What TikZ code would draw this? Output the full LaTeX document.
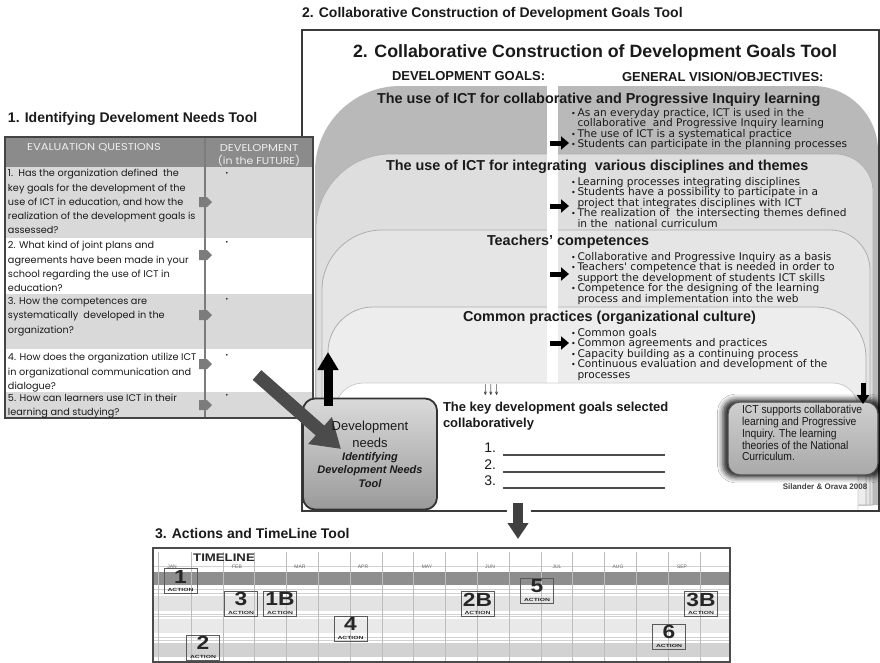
\documentclass[tikz,border=0pt]{standalone}
\usepackage{fontspec}
\setmainfont{Liberation Sans}
\newfontfamily\bulfont{DejaVu Sans}
\newfontfamily\geofont{Poppins}
\newfontfamily\narrowfont{Liberation Sans}[FakeStretch=0.9]
\usetikzlibrary{arrows.meta,shadows.blur}
\definecolor{bandA}{HTML}{B9B9B9}
\definecolor{bandB}{HTML}{DEDEDE}
\definecolor{bandC}{HTML}{E5E5E5}
\definecolor{bandD}{HTML}{EDEDED}
\definecolor{bandline}{HTML}{AEAEAE}
\definecolor{framec}{HTML}{3A3A3A}
\definecolor{txt}{HTML}{1A1A1A}
\definecolor{hdrc}{HTML}{8B8B8B}
\definecolor{hdrtxt}{HTML}{EEEEEE}
\definecolor{rowc}{HTML}{D9D9D9}
\definecolor{tabline}{HTML}{444444}
\definecolor{divc}{HTML}{7C7C7C}
\definecolor{arrowc}{HTML}{4B4B4B}
\definecolor{devtop}{HTML}{DADADA}
\definecolor{devbot}{HTML}{9A9A9A}
\definecolor{icttop}{HTML}{CFCFCF}
\definecolor{ictbot}{HTML}{A9A9A9}
\definecolor{gridc}{HTML}{BDBDBD}
\definecolor{tlbar}{HTML}{8E8E8E}
\definecolor{tlA}{HTML}{E3E3E3}
\definecolor{tlB}{HTML}{E9E9E9}
\definecolor{tlC}{HTML}{D2D2D2}
\definecolor{actline}{HTML}{5A5A5A}
\newcommand\bi{\makebox[6.5pt][l]{\fontsize{8}{8}\selectfont •}}
\newcommand\bc{\hspace*{6.5pt}}
\newcommand\qmark[1]{\fill[divc] (199,{#1-5}) -- (207,{#1-5}) -- (212,#1) -- (207,{#1+5}) -- (199,{#1+5}) -- cycle;}
\newcommand\actionbox[3]{%
  \node[actbox] (#1) at (#2) {};
  \node[actnum, anchor=north] (#1n) at ([yshift=-1.5pt]#1.north) {\scalebox{1.2}[1]{#3}};
  \node[actlbl, anchor=south] (#1l) at ([yshift=1.5pt]#1.south) {\scalebox{1.5}[1]{ACTION}};}
\tikzset{
  heading/.style={font=\fontsize{14}{16}\selectfont\bfseries, text=txt, anchor=west},
  bandtitle/.style={font=\fontsize{14.4}{16}\selectfont\bfseries, text=txt, anchor=west},
  colhead/.style={font=\fontsize{13}{15}\selectfont\bfseries, text=txt, anchor=west},
  bullets/.style={font=\bulfont\fontsize{10.6}{10.6}\selectfont, text=txt, align=left, anchor=north west},
  qtext/.style={font=\geofont\fontsize{9.7}{14.2}\selectfont, text=txt, align=left, anchor=north west},
  hdrtext/.style={font=\geofont\fontsize{10}{11}\selectfont, text=hdrtxt},
  rarrow/.style={line width=5pt, black, -{Triangle[length=8pt,width=13pt]}},
  actbox/.style={draw=actline, line width=1pt, minimum width=33pt, minimum height=25pt},
  actnum/.style={font=\fontsize{19}{19}\selectfont\bfseries, text=black!85},
  actlbl/.style={font=\fontsize{4.5}{5}\selectfont\bfseries, text=black!85},
  month/.style={font=\fontsize{5}{6}\selectfont, text=black!60},
  blank/.style={draw=black!70, line width=1.1pt},
}
\begin{document}
\begin{tikzpicture}[x=1pt,y=-1pt, every node/.style={inner sep=0pt, outer sep=0pt}]
\useasboundingbox (0,0) rectangle (880,662);
\fill[white] (0,0) rectangle (880,662);

% ---------------- headings
\node[heading] (h2) at (302,14) {2. Collaborative Construction of Development Goals Tool};
\node[heading] (h1) at (8,119) {1. Identifying Develoment Needs Tool};
\node[heading] (h3) at (155,533) {3. Actions and TimeLine Tool};

% ---------------- tool 2 bands
\begin{scope}
\clip (302,30) rectangle (879,511);
\fill[bandA] (315,505) -- (315,171) .. controls (315,124.25) and (353.25,86) .. (400,86) -- (813,86) .. controls (848.75,86) and (878,115.25) .. (878,151) -- (878,505) -- cycle;
\fill[bandB, draw=bandline, line width=0.6pt] (316,505) -- (316,229) .. controls (316,187.75) and (349.75,154) .. (391,154) -- (835,154) .. controls (855.9,154) and (873,171.1) .. (873,192) -- (873,505) -- cycle;
\fill[bandC, draw=bandline, line width=0.8pt] (322,505) -- (322,290) .. controls (322,257) and (349,230) .. (382,230) -- (830,230) .. controls (852,230) and (870,248) .. (870,270) -- (870,505) -- cycle;
\fill[bandD, draw=bandline, line width=0.8pt] (328,505) -- (328,352) .. controls (328,327.25) and (348.25,307) .. (373,307) -- (816,307) .. controls (843.5,307) and (866,329.5) .. (866,357) -- (866,505) -- cycle;
\fill[white] (547,86) rectangle (558,383);
\fill[white, draw=black!20, line width=0.8pt] (335,515) -- (335,411) .. controls (335,395.6) and (347.6,383) .. (363,383) -- (833,383) .. controls (846.75,383) and (858,394.25) .. (858,408) -- (858,515) -- cycle;
\end{scope}
\draw[framec, line width=1.8pt] (302,30) rectangle (879,511);

\node[anchor=west, font=\fontsize{17.8}{20}\selectfont\bfseries, text=txt] (t2) at (353,53) {2. Collaborative Construction of Development Goals Tool};
\node[colhead] (cg) at (392,76) {DEVELOPMENT GOALS:};
\node[colhead] (cv) at (622,77) {GENERAL VISION/OBJECTIVES:};

\node[bandtitle] (bt1) at (377,100) {The use of ICT for collaborative and Progressive Inquiry learning};
\node[bandtitle] (bt2) at (386,167) {The use of ICT for integrating\ \ various disciplines and themes};
\node[bandtitle] (bt3) at (487,242) {Teachers' competences};
\node[bandtitle] (bt4) at (463,318) {Common practices (organizational culture)};

\node[bullets] (bl1) at (571,108) {\bi As an everyday practice, ICT is used in the\\
\bc collaborative\ \ and Progressive Inquiry learning\\
\bi The use of ICT is a systematical practice\\
\bi Students can participate in the planning processes};
\node[bullets] (bl2) at (571,177) {\bi Learning processes integrating disciplines\\
\bi Students have a possibility to participate in a\\
\bc project that integrates disciplines with ICT\\
\bi The realization of\ \ the intersecting themes defined\\
\bc in the\ \ national curriculum};
\node[bullets] (bl3) at (571,252) {\bi Collaborative and Progressive Inquiry as a basis\\
\bi Teachers' competence that is needed in order to\\
\bc support the development of students ICT skills\\
\bi Competence for the designing of the learning\\
\bc process and implementation into the web};
\node[bullets] (bl4) at (571,328) {\bi Common goals\\
\bi Common agreements and practices\\
\bi Capacity building as a continuing process\\
\bi Continuous evaluation and development of the\\
\bc processes};

\foreach \yy [count=\i] in {143,206,274,343} {
  \coordinate (ra\i s) at (550,\yy);
  \coordinate (ra\i e) at (569,\yy);
  \draw[rarrow] (ra\i s) -- (ra\i e);
}

% key goals area
\node[font=\bulfont\fontsize{15}{15}\selectfont, text=black!80] (arrs) at (491,390.5) {\scalebox{0.45}[1]{↓↓↓}};
\node[anchor=west, font=\fontsize{13}{15}\selectfont\bfseries, text=txt] (key1) at (443,408.5) {The key development goals selected};
\node[anchor=west, font=\fontsize{13}{15}\selectfont\bfseries, text=txt] (key2) at (443,424) {collaboratively};
\foreach \yy/\ly [count=\i] in {448/455,465/472,481/488} {
  \node[anchor=east, font=\fontsize{14}{16}\selectfont, text=txt] (num\i) at (496,\yy) {\i.};
  \coordinate (bl\i a) at (503,\ly);
  \coordinate (bl\i b) at (665,\ly);
  \draw[blank] (bl\i a) -- (bl\i b);
}
\node[font=\fontsize{8}{9}\selectfont\bfseries, text=black!75] (cite) at (825,487) {Silander \& Orava 2008};

% ---------------- table (tool 1)
\fill[hdrc] (5,137) rectangle (313,167);
\fill[rowc] (5,167) rectangle (313,237);
\fill[white] (5,237) rectangle (313,294);
\fill[rowc] (5,294) rectangle (313,348);
\fill[white] (5,348) rectangle (313,392);
\fill[rowc] (5,392) rectangle (313,418);
\draw[white!85!black, line width=0.6pt] (5,237) -- (313,237) (5,294) -- (313,294) (5,348) -- (313,348) (5,392) -- (313,392);
\draw[divc, line width=1.5pt] (205,137) -- (205,418);
\draw[tabline, line width=1.6pt] (5,137) rectangle (313,418);

\node[hdrtext] (hq) at (94,148) {\scalebox{1.15}[1]{EVALUATION QUESTIONS}};
\node[hdrtext] (hd1) at (259,148) {\scalebox{1.15}[1]{DEVELOPMENT}};
\node[hdrtext] (hd2) at (259,161) {\scalebox{1.1}[1]{(in the FUTURE)}};

\node[qtext] (q1) at (8,169.5) {1.\ \ Has the organization defined\ \ the\\key goals for the development of the\\use of ICT in education, and how the\\realization of the development goals is\\assessed?};
\node[qtext] (q2) at (8,241.5) {2. What kind of joint plans and\\agreements have been made in your\\school regarding the use of ICT in\\education?};
\node[qtext] (q3) at (8,297.5) {3. How the competences are\\systematically\ \ developed in the\\organization?};
\node[qtext] (q4) at (8,353.5) {4. How does the organization utilize ICT\\in organizational communication and\\dialogue?};
\node[qtext, font=\geofont\fontsize{9.7}{13.2}\selectfont] (q5) at (8,394.5) {5. How can learners use ICT in their\\learning and studying?};

\foreach \yy in {202,255,315,364,405} {\qmark{\yy}}
\foreach \yy [count=\i] in {174,243,300,356,396} {
  \node[font=\bulfont\fontsize{6}{6}\selectfont, text=txt] (db\i) at (227,\yy) {•};
}

% ---------------- development needs box
\coordinate (bigtail) at (257,375);
\coordinate (bigtip) at (341,449);
\node[draw=black!80, line width=1.8pt, rounded corners=12pt, minimum width=134pt, minimum height=111pt, top color=devtop, bottom color=devbot] (dev) at (370,454) {};
\draw[line width=13pt, arrowc, -{Triangle[length=28pt,width=34pt]}] (bigtail) -- (bigtip);
\node[font=\fontsize{13}{15}\selectfont, text=txt] (dv1) at (370,427) {Development};
\node[font=\fontsize{13}{15}\selectfont, text=txt] (dv2) at (370,443) {needs};
\node[font=\fontsize{11}{13}\selectfont\bfseries\itshape, text=txt] (dv3) at (370,458) {Identifying};
\node[font=\fontsize{11}{13}\selectfont\bfseries\itshape, text=txt] (dv4) at (370,471) {Development Needs};
\node[font=\fontsize{11}{13}\selectfont\bfseries\itshape, text=txt] (dv5) at (370,484) {Tool};

\coordinate (upstart) at (328,406);
\coordinate (upend) at (328,352);
\draw[line width=9pt, black, -{Triangle[length=18pt,width=20pt]}] (upstart) -- (upend);

% ---------------- ICT box
\node[draw=black!70, line width=1.2pt, rounded corners=12pt, minimum width=150pt, minimum height=73pt, top color=icttop, bottom color=ictbot, blur shadow={shadow xshift=0pt, shadow yshift=0pt, shadow scale=1.07, shadow blur radius=5pt, shadow opacity=85}] (ict) at (803,438.5) {};
\node[anchor=north west, align=left, font=\narrowfont\fontsize{11.5}{11.75}\selectfont, text=txt] (icttxt) at (742,405.5) {ICT supports collaborative\\learning and Progressive\\Inquiry. The learning\\theories of the National\\Curriculum.};
\coordinate (dnstart) at (863,383);
\coordinate (dnend) at (863,404);
\draw[line width=5pt, black, -{Triangle[length=9pt,width=12pt]}] (dnstart) -- (dnend);

% ---------------- arrow to timeline
\fill[white] (507,508) rectangle (531,515);
\coordinate (tlstart) at (518,503);
\coordinate (tlend) at (518,539);
\draw[line width=10pt, black!75, -{Triangle[length=16pt,width=20pt]}] (tlstart) -- (tlend);

% ---------------- timeline
\fill[white] (153,548) rectangle (730,662);
\fill[tlbar] (153,572) rectangle (730,585);
\fill[tlA] (153,596) rectangle (730,611);
\fill[tlB] (153,619) rectangle (730,633);
\fill[tlC] (153,643) rectangle (730,657);
\foreach \yy in {566,589,593,614,616,637,640} {\draw[black!18, line width=0.5pt] (153,\yy) -- (730,\yy);}
\draw[gridc, line width=0.5pt] (158,552) -- (158,662);
\foreach \k in {0,...,16} {\draw[gridc, line width=0.5pt] ({191+31.8*\k},552) -- ({191+31.8*\k},662);}
\foreach \m/\xx [count=\i] in {JAN/172,FEB/237,MAR/300,APR/363,MAY/427,JUN/490,JUL/557,AUG/618,SEP/682} {
  \node[month] (mo\i) at (\xx,567) {\m};
}
\node[font=\fontsize{11}{12}\selectfont\bfseries, text=black!85] (tlt) at (224,558) {\scalebox{1.2}[1]{TIMELINE}};
\actionbox{a1}{180.5,581}{1}
\actionbox{a3}{241,603.5}{3}
\actionbox{a1B}{280,603.5}{1B}
\actionbox{a4}{350.5,628.5}{4}
\actionbox{a2}{203,647.5}{2}
\actionbox{a2B}{477.5,604}{2B}
\actionbox{a5}{537,590.5}{5}
\actionbox{a3B}{701,604}{3B}
\actionbox{a6}{669,636.5}{6}
\draw[black!70, line width=1.2pt] (153,548) rectangle (730,662);
\end{tikzpicture}
\end{document}
